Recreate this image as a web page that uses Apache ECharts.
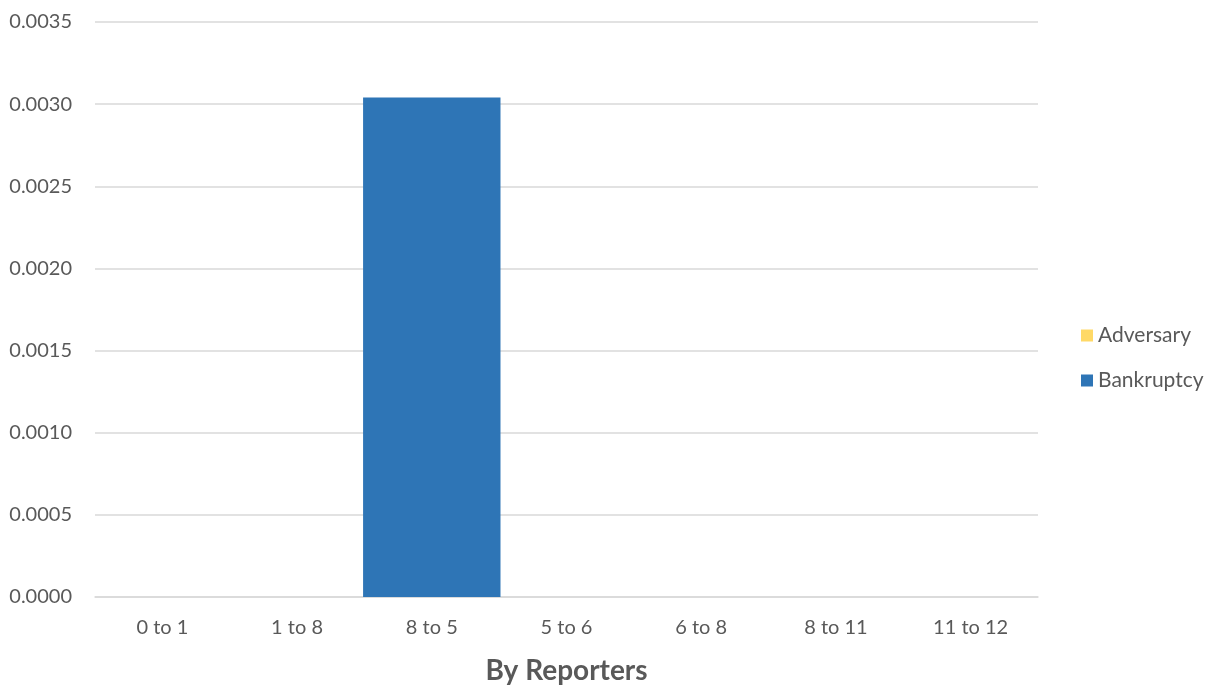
<!DOCTYPE html>
<html>
<head>
<meta charset="utf-8">
<script src="https://cdn.jsdelivr.net/npm/echarts@6/dist/echarts.min.js"></script>
<style>html,body{margin:0;padding:0;background:#fff}#c{width:1220px;height:688px}</style>
</head>
<body>
<div id="c"></div>
<script>
var categories = ['0 to 1', '1 to 8', '8 to 5', '5 to 6', '6 to 8', '8 to 11', '11 to 12'];
var adversary = [0, 0, 0, 0, 0, 0, 0];
var bankruptcy = [0, 0, 0.00304, 0, 0, 0, 0];
var yTicks = { min: 0, max: 0.0035, interval: 0.0005 };

var chart = echarts.init(document.getElementById('c'));
var font = 'Lato, "Open Sans", sans-serif';
chart.setOption({
  animation: false,
  textStyle: { fontFamily: font },
  grid: { left: 95, right: 182, top: 22, bottom: 91, containLabel: false, outerBoundsMode: 'none' },
  legend: {
    orient: 'vertical', left: 1081, top: 325, itemGap: 24, padding: 0,
    itemWidth: 12, itemHeight: 12, icon: 'rect',
    textStyle: { color: '#595959', fontSize: 21, fontFamily: font },
    data: ['Adversary', 'Bankruptcy']
  },
  xAxis: {
    type: 'category', data: categories,
    name: 'By Reporters', nameLocation: 'middle', nameGap: 60,
    nameTextStyle: { color: '#595959', fontSize: 28, fontWeight: 'bold', fontFamily: font },
    axisLine: { show: true, lineStyle: { color: '#d9d9d9', width: 1.5 } },
    axisTick: { show: false },
    axisLabel: { color: '#595959', fontSize: 20, margin: 21, fontFamily: font }
  },
  yAxis: {
    type: 'value', min: yTicks.min, max: yTicks.max, interval: yTicks.interval,
    axisLine: { show: false }, axisTick: { show: false },
    splitLine: { lineStyle: { color: '#d9d9d9', width: 1.5 } },
    axisLabel: { color: '#595959', fontSize: 20, margin: 23, fontFamily: font,
      formatter: function (v) { return v.toFixed(4); } }
  },
  series: [
    { name: 'Bankruptcy', type: 'bar', stack: 's', data: bankruptcy, barWidth: '102%',
      itemStyle: { color: '#2e75b6' } },
    { name: 'Adversary', type: 'bar', stack: 's', data: adversary, barWidth: '102%',
      itemStyle: { color: '#ffd966' } }
  ]
});
</script>
</body>
</html>
